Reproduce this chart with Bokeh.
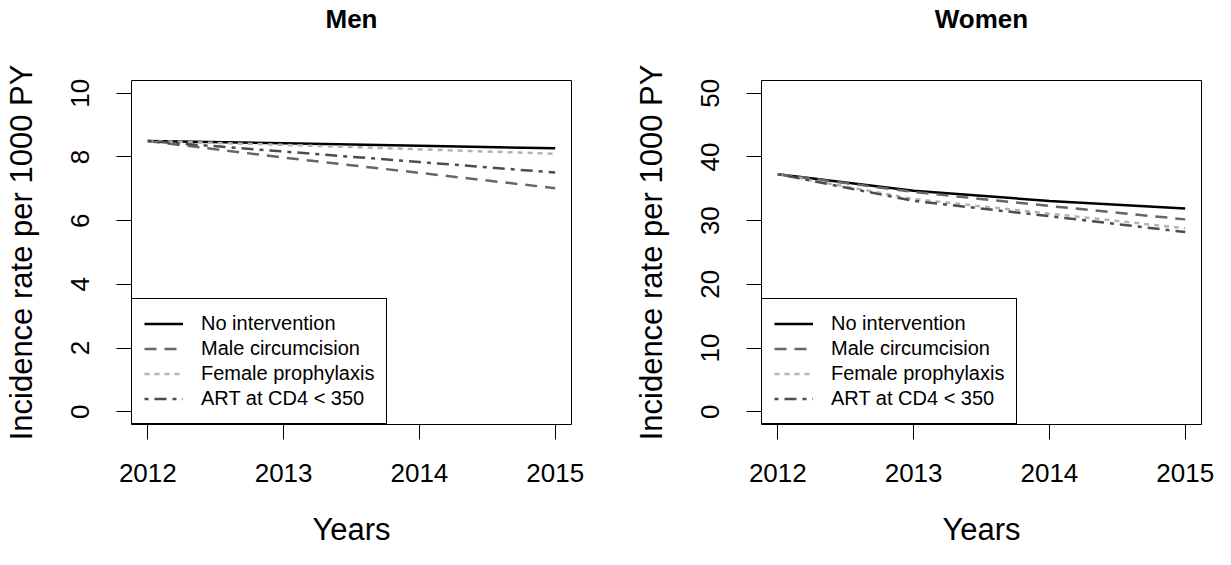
from bokeh.plotting import figure
from bokeh.models import FixedTicker, Range1d, Legend, LegendItem, LinearAxis
from bokeh.layouts import row
from bokeh.embed import file_html
from bokeh.resources import INLINE

years = [2012, 2013, 2014, 2015]
series_names = ["No intervention", "Male circumcision", "Female prophylaxis", "ART at CD4 < 350"]

men_no_intervention = [8.50, 8.43, 8.35, 8.27]
men_male_circumcision = [8.50, 7.98, 7.50, 7.02]
men_female_prophylaxis = [8.50, 8.38, 8.24, 8.10]
men_art_cd4_350 = [8.50, 8.17, 7.84, 7.51]

women_no_intervention = [37.3, 34.7, 33.1, 31.9]
women_male_circumcision = [37.3, 34.5, 32.3, 30.2]
women_female_prophylaxis = [37.3, 33.4, 31.1, 28.8]
women_art_cd4_350 = [37.3, 33.1, 30.7, 28.2]

men_yticks = [0, 2, 4, 6, 8, 10]
women_yticks = [0, 10, 20, 30, 40, 50]

line_colors = ["#000000", "#666666", "#b3b3b3", "#4d4d4d"]
line_dashes = ["solid", "12 8", "5 5", "4 6 12 6"]

FONT = "Liberation Sans"
HEIGHT = 549


def make_panel(title, series, yticks, width, mb_right):
    ymax = yticks[-1]
    pad_y = 0.04 * (ymax - yticks[0])
    pad_x = 0.04 * (years[-1] - years[0])
    p = figure(width=width, height=HEIGHT, output_backend="svg", toolbar_location=None,
               x_range=Range1d(years[0] - pad_x, years[-1] + pad_x),
               y_range=Range1d(yticks[0] - pad_y, ymax + pad_y),
               min_border_left=131, min_border_right=mb_right,
               min_border_top=77, min_border_bottom=125)
    p.background_fill_color = "white"
    p.border_fill_color = "white"
    p.grid.visible = False
    p.outline_line_color = "black"
    p.outline_line_width = 1
    p.outline_line_alpha = 1

    for ax in (p.xaxis[0], p.yaxis[0]):
        ax.axis_line_color = "black"
        ax.major_tick_line_color = "black"
        ax.major_tick_out = 15
        ax.major_tick_in = 0
        ax.minor_tick_line_color = None
        ax.major_label_text_font = FONT
        ax.major_label_text_font_size = "26px"
        ax.major_label_text_color = "black"
        ax.axis_label_text_font = FONT
        ax.axis_label_text_font_size = "31px"
        ax.axis_label_text_font_style = "normal"
        ax.axis_label_text_color = "black"

    p.xaxis.ticker = FixedTicker(ticks=years)
    p.xaxis.bounds = (years[0], years[-1])
    p.xaxis.axis_label = "Years"
    p.xaxis.major_label_standoff = 24
    p.xaxis.axis_label_standoff = 27

    p.yaxis.ticker = FixedTicker(ticks=yticks)
    p.yaxis.bounds = (yticks[0], ymax)
    p.yaxis.major_label_orientation = "vertical"
    p.yaxis.axis_label = "Incidence rate per 1000 PY"
    p.yaxis.major_label_standoff = 27
    p.yaxis.axis_label_standoff = 30

    # panel title drawn as the label of a tick-less axis above the frame
    title_axis = LinearAxis(ticker=FixedTicker(ticks=[]), axis_label=title,
                            axis_line_color=None, major_tick_line_color=None,
                            minor_tick_line_color=None, major_tick_out=0, major_tick_in=0,
                            minor_tick_out=0, minor_tick_in=0,
                            major_label_standoff=0, major_label_text_font_size="0px",
                            axis_label_text_font=FONT, axis_label_text_font_size="26px",
                            axis_label_text_font_style="bold", axis_label_text_color="black",
                            axis_label_standoff=47)
    p.add_layout(title_axis, "above")

    items = []
    for name, vals, col, dash in zip(series_names, series, line_colors, line_dashes):
        r = p.line(years, vals, line_color=col, line_width=2.5, line_dash=dash)
        items.append(LegendItem(label=name, renderers=[r]))

    legend = Legend(items=items, location="bottom_left", margin=0, padding=12,
                    spacing=0, label_height=25, glyph_height=25, glyph_width=39,
                    label_standoff=18, label_text_font=FONT, label_text_font_size="20px",
                    label_text_color="black", border_line_color="black",
                    border_line_width=1, border_line_alpha=1,
                    background_fill_color="white", background_fill_alpha=1)
    p.add_layout(legend)
    return p


men = make_panel("Men", [men_no_intervention, men_male_circumcision,
                         men_female_prophylaxis, men_art_cd4_350],
                 men_yticks, 630, 59)
women = make_panel("Women", [women_no_intervention, women_male_circumcision,
                             women_female_prophylaxis, women_art_cd4_350],
                   women_yticks, 585, 14)

layout = row(men, women)
open("out.html", "w").write(file_html(layout, INLINE))
